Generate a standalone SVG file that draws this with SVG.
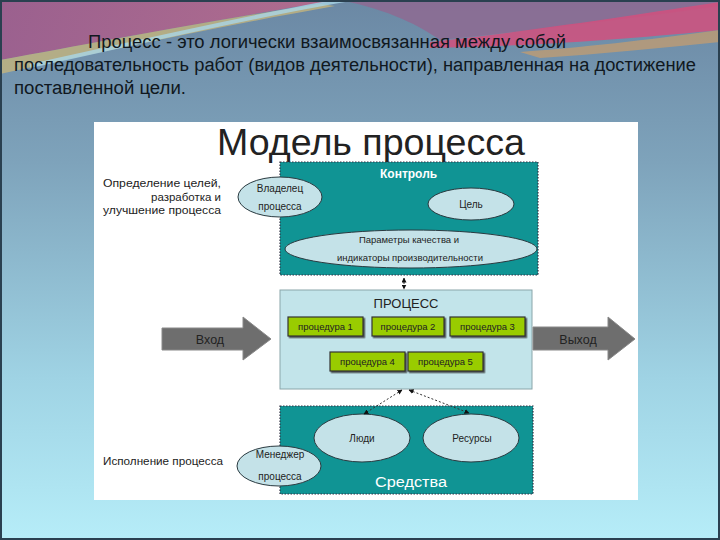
<svg xmlns="http://www.w3.org/2000/svg" width="720" height="540" viewBox="0 0 720 540">
<defs>
<linearGradient id="bg" x1="0" y1="0" x2="0" y2="1">
<stop offset="0" stop-color="#6b88a4"/>
<stop offset="0.3" stop-color="#7ea3bb"/>
<stop offset="0.7" stop-color="#9fd3e4"/>
<stop offset="1" stop-color="#b6edf8"/>
</linearGradient>
<linearGradient id="mauve" x1="0" y1="0" x2="1" y2="0">
<stop offset="0" stop-color="#a05c8c"/>
<stop offset="1" stop-color="#b86a8c"/>
</linearGradient>
<marker id="ah" viewBox="0 0 10 10" refX="9" refY="5" markerWidth="5" markerHeight="5" orient="auto-start-reverse">
<path d="M0,0 L10,5 L0,10 Z" fill="#111"/>
</marker>
<filter id="sh" x="-10%" y="-10%" width="130%" height="140%">
<feDropShadow dx="1.5" dy="1.5" stdDeviation="0.6" flood-color="#333" flood-opacity="0.8"/>
</filter>
</defs>
<style>
.top{font-family:"Liberation Sans Narrow","Liberation Sans",Arial,sans-serif;font-size:18px;fill:#101820}
.t{font-family:"Liberation Sans",Arial,sans-serif;fill:#222}
.s{font-size:10px}
.e{fill:#c4e2e8;stroke:#2a3a40;stroke-width:1}
.teal{fill:#109494;stroke:#334;stroke-width:1.2;stroke-dasharray:1.5 1.5}
.proc{fill:#99cc00;stroke:#333;stroke-width:1.2}
.w{fill:#fff}
.arrow{fill:#6e6e6e;stroke:#888;stroke-width:1}
.con{fill:none;stroke:#333;stroke-width:1;stroke-dasharray:2 2}
</style>
<!-- background -->
<rect x="0" y="0" width="720" height="540" fill="url(#bg)"/>
<path d="M0,0 H340 C260,12 130,36 0,60 Z" fill="url(#mauve)" opacity="0.9"/>
<path d="M0,60 C90,44 200,22 320,4 L335,6 C210,28 100,52 0,74 Z" fill="#c9b77a" opacity="0.75"/>
<path d="M30,66 C140,42 250,16 345,0" stroke="#a9d6e6" stroke-width="4" fill="none" opacity="0.8"/>
<path d="M340,0 H720 V6 C620,20 520,32 440,40 C420,26 390,10 340,0 Z" fill="#8e6a92" opacity="0.85"/>
<path d="M430,42 C540,30 640,14 720,2 V30 C640,38 540,46 430,48 Z" fill="#d2507e" opacity="0.85"/>
<path d="M520,52 C600,46 660,38 720,30 V42 C660,48 600,54 540,58 Z" fill="#d8a060" opacity="0.6"/>
<rect x="1" y="1" width="718" height="538" fill="none" stroke="#2a4050" stroke-width="2"/>
<!-- top text -->
<text class="top" x="88" y="48" textLength="478" lengthAdjust="spacingAndGlyphs">Процесс  - это логически взаимосвязанная между собой</text>
<text class="top" x="14" y="71" textLength="682" lengthAdjust="spacingAndGlyphs">последовательность работ (видов деятельности), направленная на достижение</text>
<text class="top" x="14" y="94" textLength="172" lengthAdjust="spacingAndGlyphs">поставленной цели.</text>
<!-- panel -->
<rect x="94" y="122" width="544" height="378" fill="#ffffff"/>
<text class="t" x="371" y="155" font-size="36" text-anchor="middle" fill="#111" textLength="308" lengthAdjust="spacingAndGlyphs">Модель процесса</text>
<!-- side labels -->
<g id="label-goals">
<text class="t" font-size="11.5" fill="#111">
<tspan x="103" y="187" textLength="118" lengthAdjust="spacingAndGlyphs">Определение целей,</tspan>
<tspan x="151" y="201" textLength="70" lengthAdjust="spacingAndGlyphs">разработка и</tspan>
<tspan x="103" y="214" textLength="118" lengthAdjust="spacingAndGlyphs">улучшение процесса</tspan>
</text>
</g>
<g id="label-exec">
<text class="t" font-size="11.5" fill="#111" x="103" y="465" textLength="120" lengthAdjust="spacingAndGlyphs">Исполнение процесса</text>
</g>
<!-- control -->
<g id="control">
<rect class="teal" x="280" y="162" width="258" height="113"/>
<text class="t w" x="380" y="178" font-size="12" font-weight="bold">Контроль</text>
</g>
<g id="owner">
<ellipse class="e" cx="280" cy="197" rx="42" ry="20"/>
<text class="t s" text-anchor="middle"><tspan x="280" y="192">Владелец</tspan><tspan x="280" y="210">процесса</tspan></text>
</g>
<g id="goal">
<ellipse class="e" cx="471" cy="204" rx="43" ry="16"/>
<text class="t s" x="471" y="208" text-anchor="middle">Цель</text>
</g>
<g id="params">
<ellipse class="e" cx="411" cy="249" rx="126" ry="19"/>
<text class="t" font-size="9.5" text-anchor="middle"><tspan x="409" y="243">Параметры качества и</tspan><tspan x="410" y="261">индикаторы производительности</tspan></text>
</g>
<!-- process -->
<g id="process">
<rect x="280" y="290" width="252" height="99" fill="#c2e4ea" stroke="#8aa6aa" stroke-width="1"/>
<text class="t" x="406" y="308" font-size="13" text-anchor="middle" fill="#111">ПРОЦЕСС</text>
</g>
<g id="p1"><rect class="proc" filter="url(#sh)" x="288" y="317" width="75" height="19"/><text class="t" font-size="9.5" x="325.5" y="330" text-anchor="middle">процедура 1</text></g>
<g id="p2"><rect class="proc" filter="url(#sh)" x="372" y="317" width="72" height="19"/><text class="t" font-size="9.5" x="408" y="330" text-anchor="middle">процедура 2</text></g>
<g id="p3"><rect class="proc" filter="url(#sh)" x="450" y="317" width="75" height="19"/><text class="t" font-size="9.5" x="487.5" y="330" text-anchor="middle">процедура 3</text></g>
<g id="p4"><rect class="proc" filter="url(#sh)" x="330" y="352" width="75" height="19"/><text class="t" font-size="9.5" x="367.5" y="365" text-anchor="middle">процедура 4</text></g>
<g id="p5"><rect class="proc" filter="url(#sh)" x="408" y="352" width="75" height="19"/><text class="t" font-size="9.5" x="445.5" y="365" text-anchor="middle">процедура 5</text></g>
<!-- input / output -->
<g id="input">
<path class="arrow" d="M162,328 H243 V317 L271,339 L243,360 V350 H162 Z"/>
<text class="t" x="210" y="344" font-size="12.5" text-anchor="middle" fill="#eeeeee">Вход</text>
</g>
<g id="output">
<path class="arrow" d="M533,327 H608 V317 L635,339 L608,360 V350 H533 Z"/>
<text class="t" x="578" y="344" font-size="12.5" text-anchor="middle" fill="#eeeeee">Выход</text>
</g>
<!-- means -->
<g id="means">
<rect class="teal" x="280" y="406" width="253" height="88"/>
<text class="t w" x="375" y="487" font-size="14" textLength="72" lengthAdjust="spacingAndGlyphs">Средства</text>
</g>
<g id="people">
<ellipse class="e" cx="362" cy="438" rx="48" ry="24"/>
<text class="t s" x="362" y="442" text-anchor="middle">Люди</text>
</g>
<g id="resources">
<ellipse class="e" cx="471" cy="438" rx="48" ry="24"/>
<text class="t s" x="472" y="442" text-anchor="middle">Ресурсы</text>
</g>
<g id="manager">
<ellipse class="e" cx="279" cy="466" rx="42" ry="20"/>
<text class="t s" text-anchor="middle"><tspan x="280" y="458">Менеджер</tspan><tspan x="280" y="480">процесса</tspan></text>
</g>
<!-- connectors -->
<g id="connectors">
<line class="con" x1="404" y1="278" x2="404" y2="289" marker-start="url(#ah)" marker-end="url(#ah)"/>
<line class="con" x1="402" y1="390" x2="364" y2="414" marker-start="url(#ah)" marker-end="url(#ah)"/>
<line class="con" x1="409" y1="390" x2="469" y2="413" marker-start="url(#ah)" marker-end="url(#ah)"/>
</g>
</svg>
